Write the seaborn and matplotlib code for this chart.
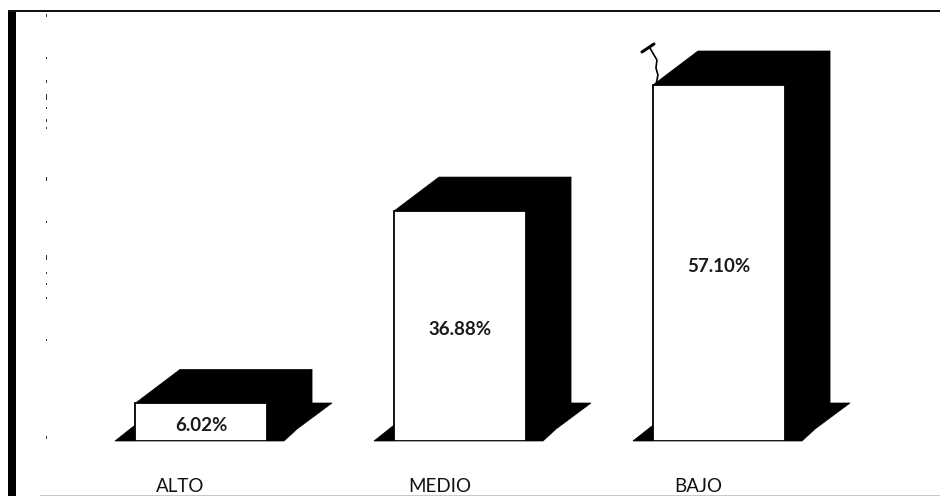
import numpy as np
import matplotlib
matplotlib.use("Agg")
import matplotlib.pyplot as plt
from matplotlib.patches import Polygon, Rectangle
import seaborn as sns

categories = ["ALTO", "MEDIO", "BAJO"]
values = [6.02, 36.88, 57.10]
value_labels = ["6.02%", "36.88%", "57.10%"]

sns.set_theme(style="white")
plt.rcParams["font.family"] = ["Lato", "DejaVu Sans"]

W, H = 940, 496
fig = plt.figure(figsize=(W / 100, H / 100), dpi=100, facecolor="white")

# Plot area in pixels: baseline at y=441, category spacing 259 px
PX_L, PX_R, PX_BASE, PX_PER_UNIT = 71.5, 848.5, 441.0, 356 / 57.10
YMAX = 60
ax = fig.add_axes([PX_L / W, 1 - PX_BASE / H, (PX_R - PX_L) / W, YMAX * PX_PER_UNIT / H])
ax.set_facecolor("none")

BAR_W = 0.51
sns.barplot(x=categories, y=values, color="white", saturation=1, width=BAR_W,
            edgecolor="black", linewidth=1.3, ax=ax, zorder=3)
ax.set_xlim(-0.5, 2.5)
ax.set_ylim(0, YMAX)
sns.despine(ax=ax, left=True, bottom=True)
ax.set_yticks([])
ax.set_xlabel("")
ax.set_ylabel("")

# Category names sit left of each bar's centre
ax.set_xticks(np.arange(len(categories)) - 0.08, categories)
ax.tick_params(axis="x", length=0, pad=27, labelsize=13.5, labelcolor="#111111")

# Conversion of depth offsets from pixels to data units
sx = 3 / (PX_R - PX_L)
sy = 1 / PX_PER_UNIT

# Oblique top, side and floor of each bar
for i, v in enumerate(values):
    x0, x1 = i - BAR_W / 2, i + BAR_W / 2
    dx, dy = 45 * sx, 34 * sy
    floor = [(x0 - 20 * sx, 0), (x0 + 28 * sx, 38 * sy), (x1 + 65 * sx, 38 * sy),
             (x1 + 30 * sx, 12 * sy), (x1 + 17 * sx, 0)]
    top = [(x0, v), (x0 + dx, v + dy), (x1 + dx, v + dy), (x1, v)]
    side = [(x1, v), (x1 + dx, v + dy), (x1 + dx, 0 + 30 * sy), (x1, 0)]
    for pts in (floor, top, side):
        ax.add_patch(Polygon(pts, closed=True, facecolor="black", edgecolor="black",
                             linewidth=0.5, zorder=2, clip_on=False))
    ax.text(i, v / 2 - 3 * sy, value_labels[i], ha="center", va="center",
            fontsize=13.5, fontweight="bold", color="#1a1a1a", zorder=4)

# Pen mark at the top-left corner of the tallest bar
bx, bv = 2 - BAR_W / 2, values[2]
ax.plot([bx + 3 * sx, bx + 5 * sx, bx + 3 * sx, bx + 4 * sx, bx - 3 * sx],
        [bv, bv + 10 * sy, bv + 17 * sy, bv + 25 * sy, bv + 37 * sy],
        color="black", lw=1.2, zorder=5, clip_on=False)
ax.plot([bx - 11 * sx, bx - 5 * sx, bx + 1 * sx],
        [bv + 33 * sy, bv + 37 * sy, bv + 41 * sy],
        color="black", lw=2.2, zorder=5, clip_on=False)

# Page frame: heavy left rule, thin top rule, faint bottom rule
def frame(x, y, w, h, color):
    fig.add_artist(Rectangle((x / W, 1 - (y + h) / H), w / W, h / H,
                             transform=fig.transFigure, facecolor=color, edgecolor="none"))

frame(8, 11, 8, H - 11, "black")
frame(8, 10, W - 8, 2, "#111111")
frame(40, 494.5, W - 40, 1.5, "#c9c9c9")

# Broken remains of the vertical axis
for y, h in [(14, 3), (57, 2), (80, 3), (94, 6), (107, 2), (119, 3), (127, 2), (177, 4),
             (221, 2), (255, 5), (272, 2), (283, 2), (297, 2), (339, 2), (436, 3)]:
    frame(45.5, y, 1, h, "#333333")

fig.savefig("out.png", dpi=100, facecolor="white")
